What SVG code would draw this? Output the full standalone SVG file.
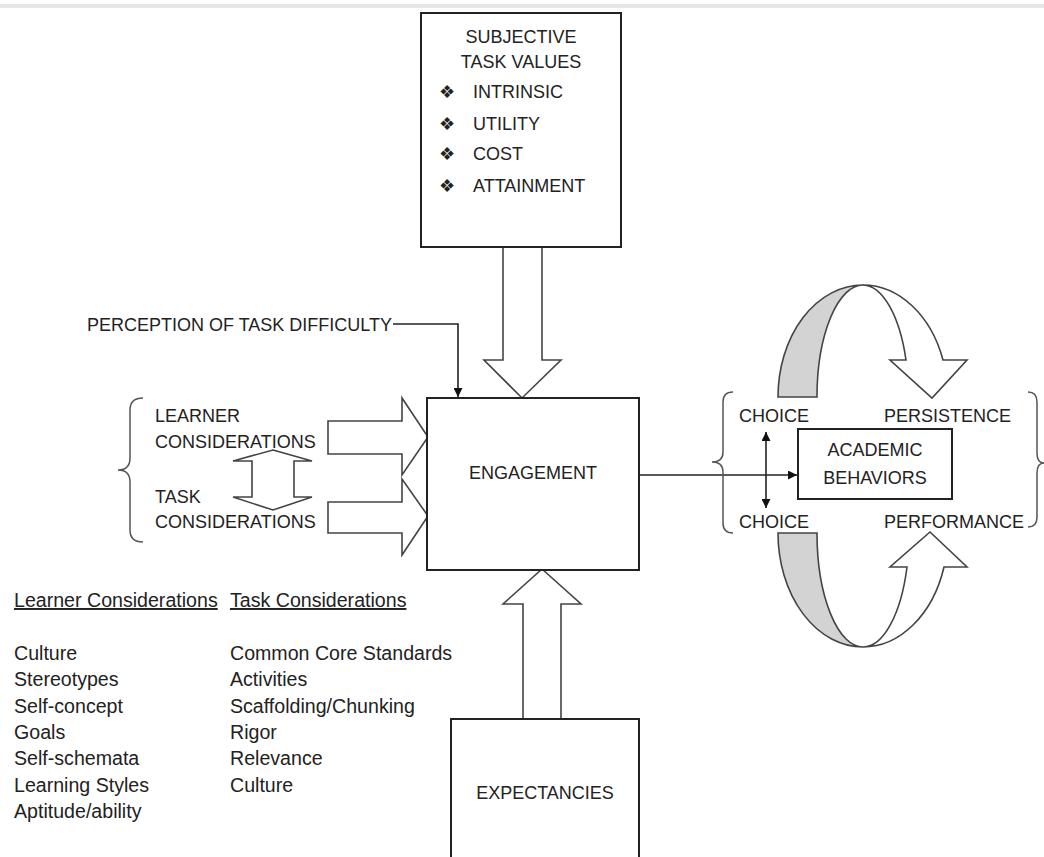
<svg xmlns="http://www.w3.org/2000/svg" width="1044" height="857" viewBox="0 0 1044 857">
<style>
.box{fill:#fff;stroke:#222;stroke-width:2}
.bigarrow{fill:#fff;stroke:#444;stroke-width:1.6;stroke-linejoin:miter}
.line{fill:none;stroke:#222;stroke-width:1.6}
.brace{fill:none;stroke:#555;stroke-width:1.5}
.gray{fill:#d3d3d3;stroke:#444;stroke-width:1.6}
text{font-family:"Liberation Sans",Arial,sans-serif;fill:#222}
.cap{font-size:18px}
.low{font-size:19.6px}
.mid{text-anchor:middle}
.bul{font-family:"DejaVu Sans",sans-serif;font-size:18px}
</style>
<defs>
<marker id="ah" viewBox="0 0 10 10" refX="10" refY="5" markerWidth="9" markerHeight="9" markerUnits="userSpaceOnUse" orient="auto-start-reverse">
<path d="M0 0 L10 5 L0 10 Z" fill="#111"/>
</marker>
</defs>
<rect x="0" y="4" width="1044" height="4" fill="#e6e6e6"/>

<g id="connectors">
<path class="bigarrow" d="M503 246 L542 246 L542 360 L561 360 L522 398 L484 360 L503 360 Z"/>
<path class="bigarrow" d="M523 719 L561 719 L561 604 L581 604 L542 569 L503 604 L523 604 Z"/>
<path class="bigarrow" d="M328 421 L402 421 L402 398 L428 437 L402 475 L402 454 L328 454 Z"/>
<path class="bigarrow" d="M328 502 L402 502 L402 479 L428 516 L402 555 L402 533 L328 533 Z"/>
<path class="bigarrow" d="M273 450 L312 461 L294 461 L294 497 L312 497 L273 510 L233 497 L252 497 L252 461 L233 461 Z"/>
<path class="line" d="M393 324 L458 324 L458 397" marker-end="url(#ah)"/>
<path class="line" d="M639 475 L797 475" marker-end="url(#ah)"/>
<path class="line" d="M766 432 L766 508" marker-start="url(#ah)" marker-end="url(#ah)"/>
<path class="gray" d="M778 397 A85 112 0 0 1 863 285 A46 112 0 0 0 817 397 Z"/>
<path class="bigarrow" d="M863 285 A85 112 0 0 1 943 360 L967 360 L932 398 L890 360 L906 360 A46 112 0 0 0 863 285 Z"/>
<path class="gray" d="M778 533 A85 114 0 0 0 863 647 A46 114 0 0 1 817 533 Z"/>
<path class="bigarrow" d="M863 647 A85 114 0 0 0 944 567 L967 567 L930 532 L890 567 L907 567 A46 114 0 0 1 863 647 Z"/>
</g>

<g id="subjective-task-values">
<rect class="box" x="421" y="13" width="200" height="234"/>
<text class="cap mid" x="521" y="43">SUBJECTIVE</text>
<text class="cap mid" x="521" y="68">TASK VALUES</text>
<text class="bul" x="439" y="98">❖</text>
<text class="bul" x="439" y="130">❖</text>
<text class="bul" x="439" y="160">❖</text>
<text class="bul" x="439" y="192">❖</text>
<text class="cap" x="473" y="98">INTRINSIC</text>
<text class="cap" x="473" y="130">UTILITY</text>
<text class="cap" x="473" y="160">COST</text>
<text class="cap" x="473" y="192">ATTAINMENT</text>
</g>

<g id="perception">
<text class="cap" x="87" y="331">PERCEPTION OF TASK DIFFICULTY</text>
</g>

<g id="engagement">
<rect class="box" x="427" y="398" width="212" height="172"/>
<text class="cap mid" x="533" y="479">ENGAGEMENT</text>
</g>

<g id="considerations">
<path class="brace" d="M143 398 Q130 398 130 410 L130 458 Q130 470 118 470 Q130 470 130 482 L130 530 Q130 542 143 542"/>
<text class="cap" x="155" y="422">LEARNER</text>
<text class="cap" x="155" y="448">CONSIDERATIONS</text>
<text class="cap" x="155" y="503">TASK</text>
<text class="cap" x="155" y="528">CONSIDERATIONS</text>
</g>

<g id="academic-behaviors">
<rect class="box" x="798" y="429" width="154" height="70"/>
<text class="cap mid" x="875" y="456">ACADEMIC</text>
<text class="cap mid" x="875" y="484">BEHAVIORS</text>
</g>

<g id="behaviors">
<path class="brace" d="M733 392 Q723 392 723 402 L723 452 Q723 462 712 462 Q723 462 723 472 L723 523 Q723 533 733 533"/>
<path class="brace" d="M1028 392 Q1037 392 1037 402 L1037 453 Q1037 463 1044 463 Q1037 463 1037 473 L1037 517 Q1037 527 1028 527"/>
<text class="cap" x="739" y="422">CHOICE</text>
<text class="cap" x="739" y="528">CHOICE</text>
<text class="cap" x="884" y="422">PERSISTENCE</text>
<text class="cap" x="884" y="528">PERFORMANCE</text>
</g>

<g id="expectancies">
<path class="box" d="M451 860 L451 719 L639 719 L639 860"/>
<text class="cap mid" x="545" y="799">EXPECTANCIES</text>
</g>

<g id="lists">
<text class="low" x="14" y="607" text-decoration="underline">Learner Considerations</text>
<text class="low" x="230" y="607" text-decoration="underline">Task Considerations</text>
<text class="low" x="14" y="660">Culture</text>
<text class="low" x="14" y="686">Stereotypes</text>
<text class="low" x="14" y="713">Self-concept</text>
<text class="low" x="14" y="739">Goals</text>
<text class="low" x="14" y="765">Self-schemata</text>
<text class="low" x="14" y="792">Learning Styles</text>
<text class="low" x="14" y="818">Aptitude/ability</text>
<text class="low" x="230" y="660">Common Core Standards</text>
<text class="low" x="230" y="686">Activities</text>
<text class="low" x="230" y="713">Scaffolding/Chunking</text>
<text class="low" x="230" y="739">Rigor</text>
<text class="low" x="230" y="765">Relevance</text>
<text class="low" x="230" y="792">Culture</text>
</g>
</svg>
